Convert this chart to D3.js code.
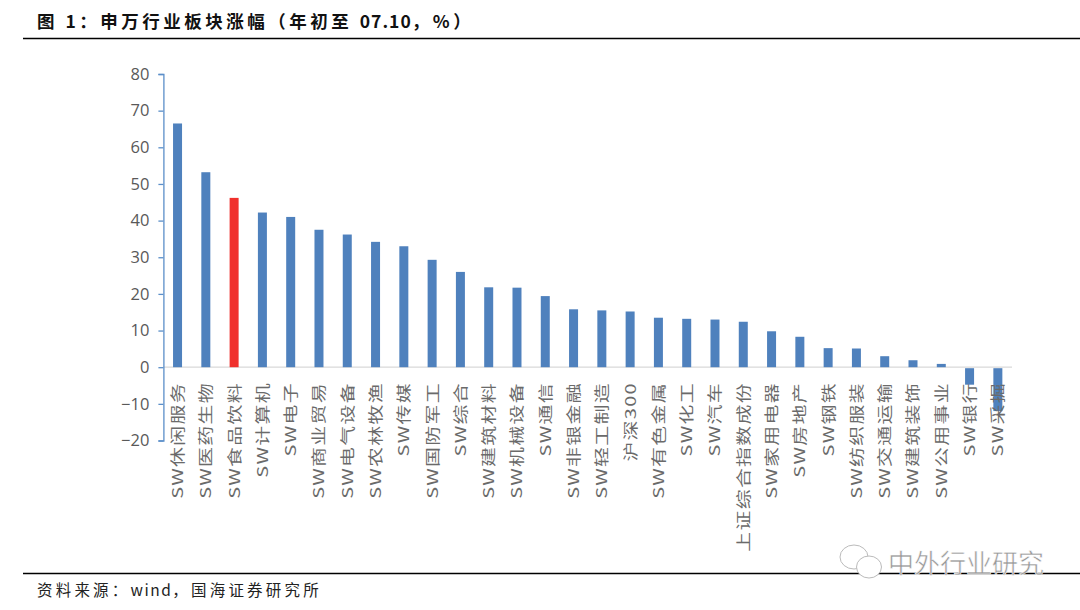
<!DOCTYPE html>
<html><head><meta charset="utf-8">
<script src="https://cdn.jsdelivr.net/npm/d3@7"></script>
<style>html,body{margin:0;padding:0;background:#fff}svg{display:block}</style>
</head><body><div id="c"></div>
<script>
const categories=["SW休闲服务","SW医药生物","SW食品饮料","SW计算机","SW电子","SW商业贸易","SW电气设备","SW农林牧渔","SW传媒","SW国防军工","SW综合","SW建筑材料","SW机械设备","SW通信","SW非银金融","SW轻工制造","沪深300","SW有色金属","SW化工","SW汽车","上证综合指数成份","SW家用电器","SW房地产","SW钢铁","SW纺织服装","SW交通运输","SW建筑装饰","SW公用事业","SW银行","SW采掘"];
const values=[66.5,53.2,46.2,42.2,41,37.5,36.2,34.2,33,29.3,26,21.8,21.7,19.4,15.8,15.5,15.2,13.5,13.2,13,12.4,9.8,8.3,5.2,5.1,3,1.9,0.9,-4.5,-11.7];
const highlight="SW食品饮料";
const yTicks=[-20,-10,0,10,20,30,40,50,60,70,80];
const titleParts=[["图 1：申万行业板块涨幅（年初至 ",3.5],["07.10",1],["，%）",3.5]];
const sourceParts=[["资料来源：",3.2],["wind",1.5],["，国海证券研究所",3.2]];
const watermark="中外行业研究";
const CJK='"Noto Sans CJK SC","Noto Sans",sans-serif';
const svg=d3.select("#c").append("svg").attr("width",1080).attr("height",610);
const band=d3.scaleBand().domain(categories).range([163.4,1012]);
const y=d3.scaleLinear().domain([-20,80]).range([440.5,74]);
svg.append("text").attr("x",37).attr("y",28).attr("font-family",CJK).attr("font-weight",700).attr("font-size",17.5).attr("fill","#111").attr("xml:space","preserve")
 .selectAll("tspan").data(titleParts).join("tspan").attr("letter-spacing",d=>d[1]).text(d=>d[0]);
svg.append("line").attr("x1",23).attr("x2",1080).attr("y1",38.5).attr("y2",38.5).attr("stroke","#000").attr("stroke-width",1.6);
svg.append("line").attr("x1",23).attr("x2",1080).attr("y1",573.5).attr("y2",573.5).attr("stroke","#000").attr("stroke-width",1.6);
svg.append("text").attr("x",37).attr("y",596).attr("font-family",CJK).attr("font-size",15.5).attr("fill","#222")
 .selectAll("tspan").data(sourceParts).join("tspan").attr("letter-spacing",d=>d[1]).text(d=>d[0]);
const chart=svg.append("g");
chart.append("line").attr("x1",163.4).attr("x2",1012).attr("y1",y(0)).attr("y2",y(0)).attr("stroke","#d9d9d9").attr("stroke-width",1.2);
chart.selectAll("rect.b").data(values).join("rect").attr("class","b")
 .attr("x",(d,i)=>band(categories[i])+band.bandwidth()/2-4.5).attr("width",9)
 .attr("y",d=>d>=0?y(d):y(0)+1).attr("height",d=>Math.abs(y(d)-y(0)))
 .attr("fill",(d,i)=>categories[i]===highlight?"#f0302c":"#4f81bd");
const ax=chart.append("g").attr("transform","translate(163.4,0)").call(d3.axisLeft(y).tickValues(yTicks).tickSize(5).tickPadding(9).tickFormat(d3.format("d")));
ax.selectAll("path,line").attr("stroke","#5b8fc9").attr("stroke-width",1.3);
ax.selectAll("text").attr("font-family",'"Open Sans",sans-serif').attr("font-size",16.5).attr("fill","#595959");
chart.append("g").selectAll("text").data(categories).join("text")
 .attr("transform",d=>`translate(${band(d)+band.bandwidth()/2+5.5},382) rotate(-90) scale(1.37,1)`)
 .attr("text-anchor","end").attr("font-family",CJK).attr("font-size",14.5).attr("letter-spacing",1).attr("fill","#6a6a6a").text(d=>d);
const wm=svg.append("g");
const bubbles=[[854,557,14,12],[869,567,12.5,11]];
wm.selectAll("ellipse").data(bubbles).join("ellipse").attr("cx",d=>d[0]).attr("cy",d=>d[1]).attr("rx",d=>d[2]).attr("ry",d=>d[3]).attr("fill","#fff").attr("stroke","#bbb").attr("stroke-width",1);
wm.append("text").attr("x",888).attr("y",573).attr("font-family",CJK).attr("font-size",26).attr("fill","#999").attr("stroke","#fff").attr("stroke-width",0.5).text(watermark);
</script></body></html>
